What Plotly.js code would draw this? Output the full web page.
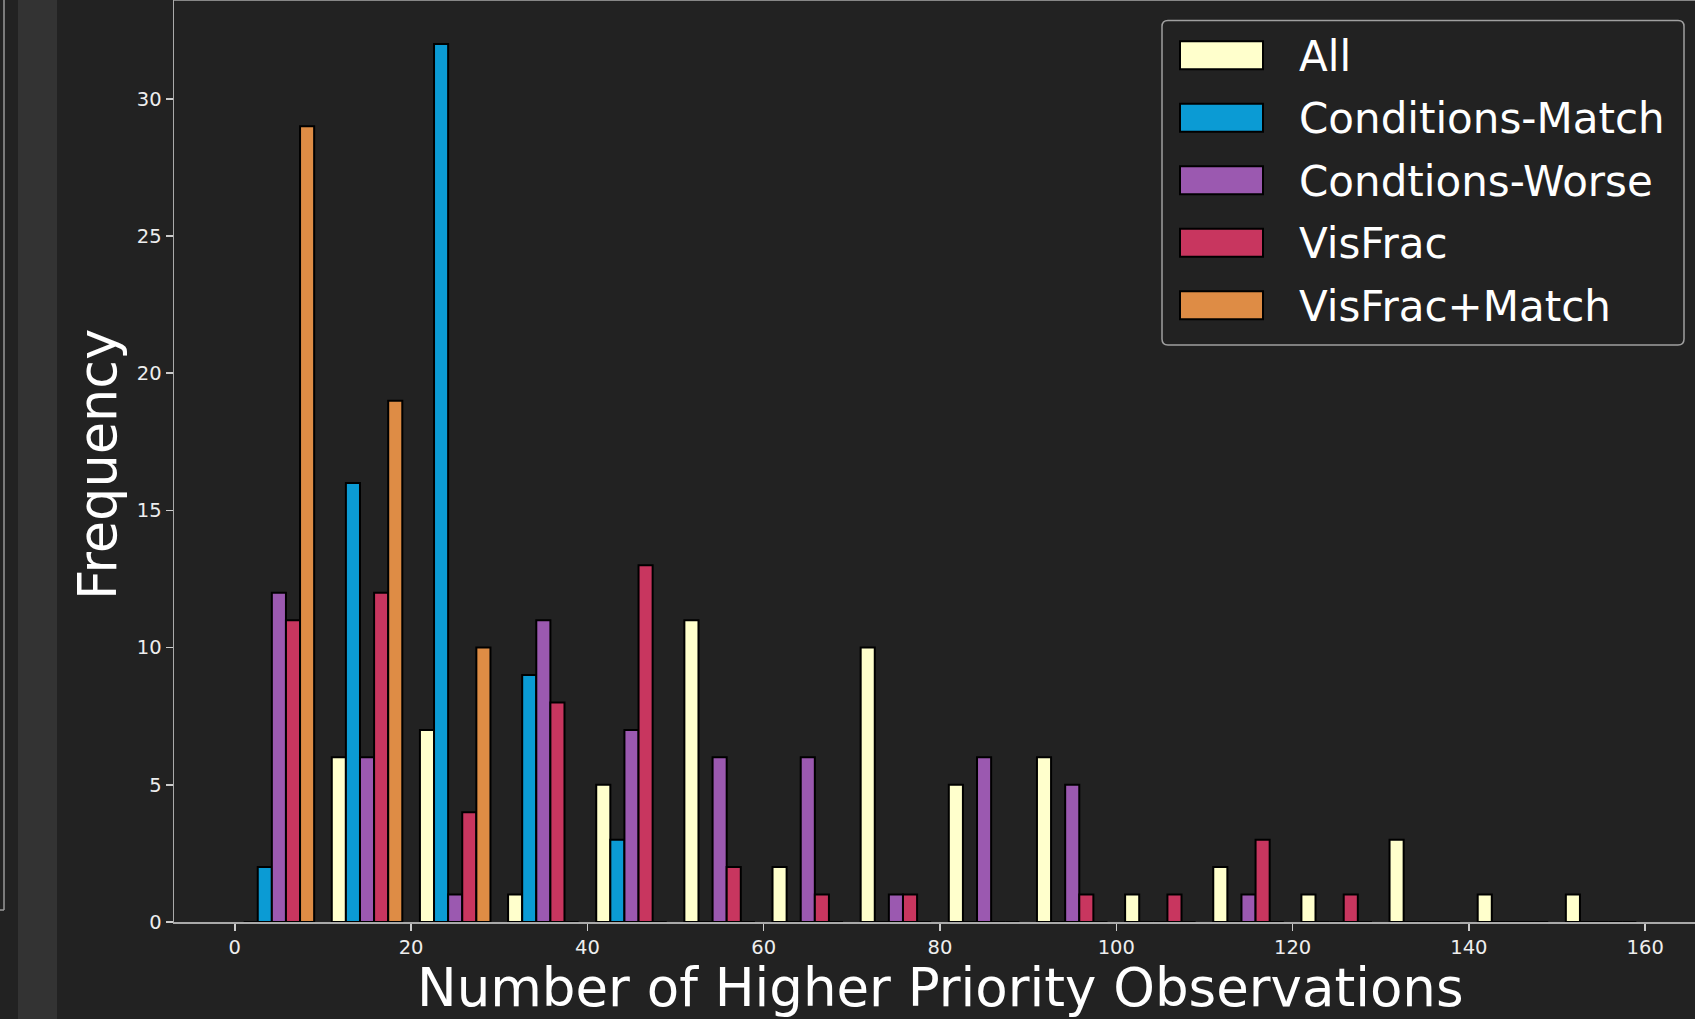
<!DOCTYPE html>
<html>
<head>
<meta charset="utf-8">
<script src="https://cdn.plot.ly/plotly-3.0.1.min.js"></script>
<style>
  html, body { margin: 0; padding: 0; background: #222222; overflow: hidden; }
  #chart { width: 1710px; height: 1019px; }
</style>
</head>
<body>
<div id="chart"></div>
<script>
// Histogram bin edges (width 10) and per-series counts in each bin
const binEdges = [0, 10, 20, 30, 40, 50, 60, 70, 80, 90, 100, 110, 120, 130, 140, 150, 160];

const seriesNames = ["All", "Conditions-Match", "Condtions-Worse", "VisFrac", "VisFrac+Match"];
const seriesColors = ["#FFFFCC", "#0B9BD4", "#9B59B0", "#C8365F", "#DE8C45"];

const allCounts          = [0, 6, 7, 1, 5, 11, 2, 10, 5, 6, 1, 2, 1, 3, 1, 1];
const matchCounts        = [2, 16, 32, 9, 3, 0, 0, 0, 0, 0, 0, 0, 0, 0, 0, 0];
const worseCounts        = [12, 6, 1, 11, 7, 6, 6, 1, 6, 5, 0, 1, 0, 0, 0, 0];
const visFracCounts      = [11, 12, 4, 8, 13, 2, 1, 1, 0, 1, 1, 3, 1, 0, 0, 0];
const visFracMatchCounts = [29, 19, 10, 0, 0, 0, 0, 0, 0, 0, 0, 0, 0, 0, 0, 0];

const xTickVals = [0, 20, 40, 60, 80, 100, 120, 140, 160];
const yTickVals = [0, 5, 10, 15, 20, 25, 30];

const xLabel = "Number of Higher Priority Observations";
const yLabel = "Frequency";

// ---- layout geometry (pixels) ----
const W = 1710, H = 1019;
const M = { l: 174, r: 4, t: 0, b: 97 };
const PW = W - M.l - M.r, PH = H - M.t - M.b;
const px = x => (x - M.l) / PW;          // page px -> paper x
const py = y => (M.t + PH - y) / PH;     // page px -> paper y

const FONT = "DejaVu Sans, Liberation Sans, sans-serif";

const binCenters = binEdges.slice(0, -1).map((e, i) => (e + binEdges[i + 1]) / 2);
const countSets = [allCounts, matchCounts, worseCounts, visFracCounts, visFracMatchCounts];

const traces = countSets.map((counts, i) => ({
  type: "bar",
  name: seriesNames[i],
  x: binCenters,
  y: counts,
  marker: { color: seriesColors[i], line: { color: "#000000", width: 2 } },
  hoverinfo: "x+y+name",
  showlegend: false
}));

// ---- side panel decorations ----
const shapes = [
  { type: "rect", xref: "paper", yref: "paper", layer: "below",
    x0: px(18), x1: px(57), y0: py(0), y1: py(H),
    fillcolor: "#333333", line: { width: 0 } },
  { type: "line", xref: "paper", yref: "paper", layer: "below",
    x0: px(4), x1: px(4), y0: py(-2), y1: py(910),
    line: { color: "#9a9a9a", width: 1.5 } },
  { type: "line", xref: "paper", yref: "paper", layer: "below",
    x0: px(-2), x1: px(4), y0: py(910), y1: py(910),
    line: { color: "#9a9a9a", width: 1.5 } },
  // top spine
  { type: "line", xref: "paper", yref: "paper", layer: "above",
    x0: 0, x1: 1, y0: 1, y1: 1,
    line: { color: "#aaaaaa", width: 1.5 } }
];

// ---- legend box with rounded corners ----
const lg = { x0: 1162, x1: 1684, y0: 20.5, y1: 345, r: 6 };
const P = (x, y) => px(x) + "," + py(y);
shapes.push({
  type: "path", xref: "paper", yref: "paper", layer: "above",
  path: "M" + P(lg.x0 + lg.r, lg.y0) +
        " L" + P(lg.x1 - lg.r, lg.y0) + " Q" + P(lg.x1, lg.y0) + " " + P(lg.x1, lg.y0 + lg.r) +
        " L" + P(lg.x1, lg.y1 - lg.r) + " Q" + P(lg.x1, lg.y1) + " " + P(lg.x1 - lg.r, lg.y1) +
        " L" + P(lg.x0 + lg.r, lg.y1) + " Q" + P(lg.x0, lg.y1) + " " + P(lg.x0, lg.y1 - lg.r) +
        " L" + P(lg.x0, lg.y0 + lg.r) + " Q" + P(lg.x0, lg.y0) + " " + P(lg.x0 + lg.r, lg.y0) + " Z",
  fillcolor: "rgba(34,34,34,0.85)",
  line: { color: "#a0a0a0", width: 1.5 }
});

const annotations = [];
const rowY0 = 55.3, rowStep = 62.5;
seriesNames.forEach((name, i) => {
  const cy = rowY0 + i * rowStep;
  shapes.push({
    type: "rect", xref: "paper", yref: "paper", layer: "above",
    x0: px(1180), x1: px(1263), y0: py(cy - 14), y1: py(cy + 14),
    fillcolor: seriesColors[i], line: { color: "#000000", width: 2 }
  });
  annotations.push({
    xref: "paper", yref: "paper", x: px(1297), y: py(cy + 1),
    xanchor: "left", yanchor: "middle", showarrow: false,
    text: name, font: { family: FONT, size: 42, color: "#ffffff" }
  });
});

// axis titles
annotations.push({
  xref: "paper", yref: "paper", x: 0.5, y: py(987),
  xanchor: "center", yanchor: "middle", showarrow: false,
  text: xLabel, font: { family: FONT, size: 53, color: "#ffffff" }
});
annotations.push({
  xref: "paper", yref: "paper", x: px(98), y: py(465),
  xanchor: "center", yanchor: "middle", showarrow: false, textangle: -90,
  text: yLabel, font: { family: FONT, size: 52.5, color: "#ffffff" }
});

const layout = {
  width: W, height: H,
  margin: M,
  paper_bgcolor: "#222222",
  plot_bgcolor: "#222222",
  barmode: "group",
  bargap: 0.2,
  bargroupgap: 0,
  showlegend: false,
  font: { family: FONT, color: "#eeeeee" },
  xaxis: {
    range: [-6.9, 166.9],
    tickmode: "array", tickvals: xTickVals, ticktext: xTickVals.map(String),
    ticks: "outside", ticklen: 7, tickwidth: 1.5, tickcolor: "#cccccc",
    tickfont: { family: FONT, size: 19.5, color: "#eeeeee" },
    showline: true, linecolor: "#aaaaaa", linewidth: 1.5,
    showgrid: false, zeroline: false
  },
  yaxis: {
    range: [0, 33.6],
    tickmode: "array", tickvals: yTickVals, ticktext: yTickVals.map(String),
    ticks: "outside", ticklen: 7, tickwidth: 1.5, tickcolor: "#cccccc",
    tickfont: { family: FONT, size: 19.5, color: "#eeeeee" },
    showline: true, linecolor: "#aaaaaa", linewidth: 1.5,
    showgrid: false, zeroline: false
  },
  shapes: shapes,
  annotations: annotations
};

Plotly.newPlot("chart", traces, layout, { displayModeBar: false, staticPlot: true });
</script>
</body>
</html>
